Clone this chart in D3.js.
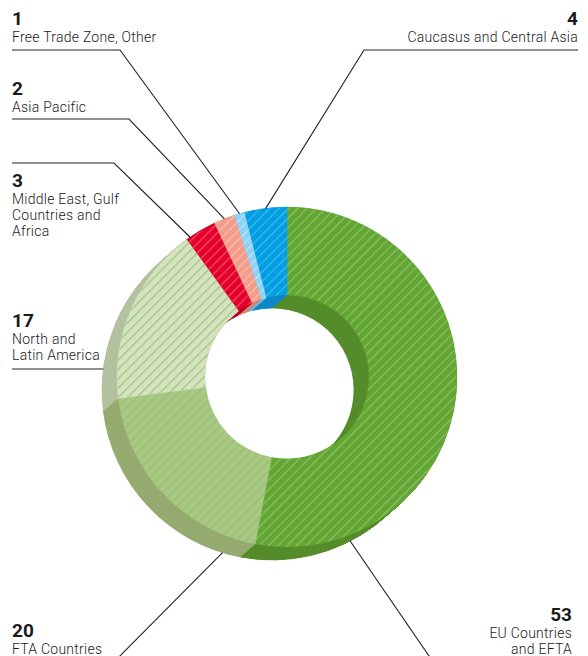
<!DOCTYPE html>
<html>
<head>
<meta charset="utf-8">
<script src="https://cdn.jsdelivr.net/npm/d3@7"></script>
<style>
  html, body { margin: 0; padding: 0; background: #fff; }
  svg { display: block; }
  text { font-family: Roboto, "Noto Sans", sans-serif; fill: #1a1a1a; }
</style>
</head>
<body>
<svg id="chart" width="588" height="656"></svg>
<script>
// Shares by region, in percent, clockwise from 12 o'clock
const categories = [
  "EU Countries and EFTA",
  "FTA Countries",
  "North and Latin America",
  "Middle East, Gulf Countries and Africa",
  "Asia Pacific",
  "Free Trade Zone, Other",
  "Caucasus and Central Asia"
];
const values = [53, 20, 17, 3, 2, 1, 4];
const labelLines = [
  ["EU Countries", "and EFTA"],
  ["FTA Countries"],
  ["North and", "Latin America"],
  ["Middle East, Gulf", "Countries and", "Africa"],
  ["Asia Pacific"],
  ["Free Trade Zone, Other"],
  ["Caucasus and Central Asia"]
];

// Face, hatch and side colours per slice
const faceColors  = ["#63a633", "#a8c884", "#d4e3bf", "#e4002b", "#f39c8b", "#8fd3f4", "#009fe3"];
const hatchColors = ["#8cc064", "#97bf6e", "#9fc476", "#f05068", "#f8c0b3", "#bde5f8", "#45b9ed"];
const sideColors  = ["#568d2c", "#95ab70", "#b3c1a0", "#b8001f", "#d88272", "#6fb9dd", "#0b88c6"];

const svg = d3.select("#chart");
const cx = 287, cy = 377, R = 170, r = 82;
const depth = { x: -15, y: 13 };

const pie = d3.pie().sort(null).value(d => d)(values);
const arc = d3.arc().innerRadius(r).outerRadius(R);

// Hatch patterns
const defs = svg.append("defs");
const gap = 6.6;
faceColors.forEach((c, i) => {
  const p = defs.append("pattern")
    .attr("id", "hatch" + i)
    .attr("patternUnits", "userSpaceOnUse")
    .attr("width", gap).attr("height", gap)
    .attr("patternTransform", "rotate(45)");
  p.append("rect").attr("width", gap).attr("height", gap).attr("fill", c);
  p.append("rect").attr("x", 0).attr("width", 1.2).attr("height", gap).attr("fill", hatchColors[i]);
});

// Extruded side walls: stack the ring from the back layer to the front
const steps = 40;
const walls = svg.append("g");
for (let s = steps; s >= 1; s--) {
  const t = s / steps;
  walls.append("g")
    .attr("transform", `translate(${cx + depth.x * t},${cy + depth.y * t})`)
    .selectAll("path")
    .data(pie)
    .join("path")
    .attr("d", arc)
    .attr("fill", (d, i) => sideColors[i])
    .attr("stroke", (d, i) => sideColors[i])
    .attr("stroke-width", 0.6);
}

// Top face
svg.append("g")
  .attr("transform", `translate(${cx},${cy})`)
  .selectAll("path")
  .data(pie)
  .join("path")
  .attr("d", arc)
  .attr("fill", (d, i) => `url(#hatch${i})`)
  .attr("stroke", (d, i) => faceColors[i])
  .attr("stroke-width", 0.4);

// Label layout: text anchor, leader elbow, and where the leader meets the ring
// (fraction along the slice, and whether it hits the face or the back edge)
const layout = [
  { x: 572, y: 621, align: "end",   elbow: [440, 672], at: 0.80, back: true },
  { x: 12,  y: 637, align: "start", elbow: [104, 672], at: 0.085, back: true },
  { x: 12,  y: 327, align: "start", line: [12, 369], at: 0.235, back: true, flat: true },
  { x: 12,  y: 187, align: "start", line: [12, 163], elbow: [114, 163], at: 0.12 },
  { x: 12,  y: 95,  align: "start", line: [12, 119], elbow: [129, 119], at: 0.5 },
  { x: 12,  y: 25,  align: "start", line: [12, 50],  elbow: [120, 50],  at: 0.5 },
  { x: 578, y: 25,  align: "end",   line: [578, 50], elbow: [364, 50],  at: 0.5 }
];

function ringPoint(d, frac, back) {
  const a = d.startAngle + (d.endAngle - d.startAngle) * frac;
  const ox = back ? cx + depth.x : cx, oy = back ? cy + depth.y : cy;
  return [ox + R * Math.sin(a), oy - R * Math.cos(a)];
}

const labels = svg.append("g");
pie.forEach((d, i) => {
  const L = layout[i];
  const g = labels.append("g");
  const anchor = ringPoint(d, L.at, L.back);

  // Leader line
  let pts;
  if (L.flat) {
    pts = [[L.line[0], L.line[1]], [anchor[0], L.line[1]]];
  } else if (L.line) {
    pts = [[L.line[0], L.line[1]], L.elbow, anchor];
  } else {
    pts = [L.elbow, anchor];
  }
  g.append("path")
    .attr("d", d3.line()(pts))
    .attr("fill", "none")
    .attr("stroke", "#222")
    .attr("stroke-width", 1.1);

  // Value
  g.append("text")
    .attr("x", L.x).attr("y", L.y)
    .attr("text-anchor", L.align)
    .attr("font-size", 19)
    .attr("font-weight", 700)
    .text(values[i]);

  // Category name
  labelLines[i].forEach((line, k) => {
    g.append("text")
      .attr("x", L.x).attr("y", L.y + 17 + k * 16)
      .attr("text-anchor", L.align)
      .attr("font-size", 14)
      .attr("font-weight", 300)
      .attr("letter-spacing", 0.25)
      .attr("fill", "#2a2a2a")
      .text(line);
  });
});
</script>
</body>
</html>
